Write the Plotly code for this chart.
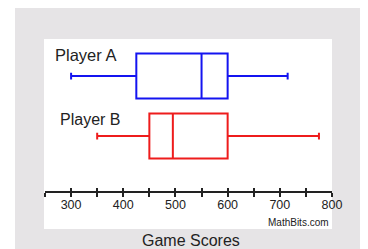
import plotly.graph_objects as go

# ---- data ----
players = ["Player A", "Player B"]
row_pos = [153, 93]
mins = [300, 350]
q1s = [425, 450]
medians = [550, 495]
q3s = [600, 600]
maxs = [715, 775]
colors = ["#1414f0", "#ee1c1c"]
tick_labels_vals = [300, 400, 500, 600, 700, 800]
all_ticks = [250, 300, 350, 400, 450, 500, 550, 600, 650, 700, 750, 800]
x_range = [250, 800]

FONT = "Liberation Sans, Arial, sans-serif"

fig = go.Figure()
for i, name in enumerate(players):
    fig.add_trace(go.Box(
        name=name,
        y=[row_pos[i]],
        q1=[q1s[i]], median=[medians[i]], q3=[q3s[i]],
        lowerfence=[mins[i]], upperfence=[maxs[i]],
        orientation="h", width=45, whiskerwidth=0.15,
        boxpoints=False,
        line=dict(color=colors[i], width=2),
        fillcolor="rgba(255,255,255,0)",
        hoverinfo="skip", showlegend=False,
    ))

# dummy trace for overlay axis (inside ticks)
fig.add_trace(go.Scatter(x=[None], y=[None], xaxis="x2", yaxis="y",
                         showlegend=False, hoverinfo="skip"))

axpos = (229 - 192) / 190
fig.update_layout(
    width=360, height=241,
    margin=dict(l=37, r=36, t=31, b=20),
    paper_bgcolor="white", plot_bgcolor="white",
    font=dict(family=FONT, color="#222"),
    xaxis=dict(range=x_range, anchor="free", position=axpos,
               showline=True, linecolor="#222", linewidth=1.5,
               tickmode="array", tickvals=tick_labels_vals,
               ticks="outside", ticklen=4, tickwidth=1.5, tickcolor="#222",
               ticklabelstandoff=-3,
               minor=dict(tickmode="array", tickvals=[v for v in all_ticks if v not in tick_labels_vals],
                          ticks="outside", ticklen=4, tickwidth=1.5, tickcolor="#222"),
               showgrid=False, zeroline=False,
               tickfont=dict(size=12.5, color="#222"), fixedrange=True),
    xaxis2=dict(range=x_range, overlaying="x", anchor="free", position=axpos,
                tickmode="array", tickvals=all_ticks,
                ticks="inside", ticklen=4, tickwidth=1.5, tickcolor="#222",
                showticklabels=False, showline=False, showgrid=False,
                zeroline=False, fixedrange=True, side="bottom"),
    yaxis=dict(range=[0, 190], visible=False, fixedrange=True),
    shapes=[
        dict(type="rect", xref="paper", yref="paper", x0=-0.1045, x1=1.1045,
             y0=-0.11, y1=1.163, fillcolor="#e6e4e6", line=dict(width=0), layer="below"),
        dict(type="rect", xref="paper", yref="paper", x0=-0.0035, x1=1.0,
             y0=0, y1=1, fillcolor="white", line=dict(width=0), layer="below"),
    ],
    annotations=[
        dict(text="Player A", xref="paper", yref="paper", x=0.028, y=0.918,
             xanchor="left", yanchor="middle", showarrow=False,
             font=dict(size=16.5, color="#222")),
        dict(text="Player B", xref="paper", yref="paper", x=0.045, y=0.575,
             xanchor="left", yanchor="middle", showarrow=False,
             font=dict(size=16, color="#222")),
        dict(text="MathBits.com", xref="paper", yref="paper", x=0.9965, y=0.0368,
             xanchor="right", yanchor="middle", showarrow=False,
             font=dict(size=10, color="#222")),
        dict(text="Game Scores", xref="paper", yref="paper", x=0.509, y=-0.063,
             xanchor="center", yanchor="middle", showarrow=False,
             font=dict(size=16, color="#222")),
    ],
)

fig.write_html("out.html")
